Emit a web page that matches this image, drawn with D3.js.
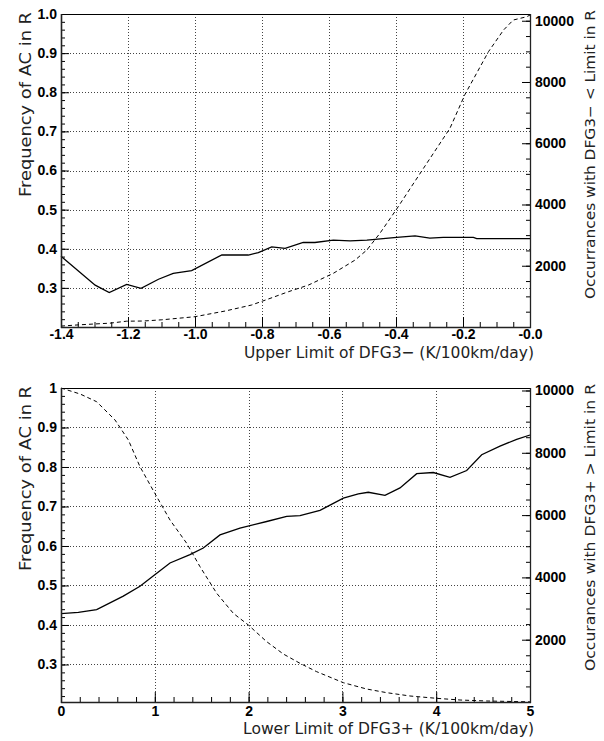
<!DOCTYPE html>
<html>
<head>
<meta charset="utf-8">
<script src="https://cdn.jsdelivr.net/npm/d3@7/dist/d3.min.js"></script>
<style>
  html, body { margin: 0; padding: 0; background: #fff; }
  svg { display: block; }
</style>
</head>
<body>
<svg id="chart" width="604" height="741"></svg>
<script>
// ---------------- DATA ----------------
// Top panel: upper limit of DFG3-
const topFreqX = [-1.4, -1.298, -1.256, -1.204, -1.161, -1.109, -1.065, -1.01, -0.92, -0.841, -0.811, -0.771, -0.731, -0.677, -0.642, -0.587, -0.537, -0.487, -0.398, -0.343, -0.299, -0.259, -0.169, -0.159, 0];
const topFreqY = [0.381, 0.307, 0.288, 0.309, 0.299, 0.322, 0.337, 0.344, 0.384, 0.384, 0.390, 0.405, 0.401, 0.416, 0.416, 0.422, 0.420, 0.422, 0.429, 0.433, 0.427, 0.429, 0.429, 0.426, 0.426];
const topCountX = [-1.4, -1.34, -1.254, -1.204, -1.154, -1.099, -1.0, -0.91, -0.831, -0.781, -0.721, -0.661, -0.587, -0.522, -0.487, -0.448, -0.398, -0.318, -0.239, -0.194, -0.124, -0.079, -0.05, -0.01, 0];
const topCountY = [30, 75, 125, 190, 195, 235, 336, 522, 718, 914, 1153, 1371, 1753, 2187, 2514, 3059, 3852, 5181, 6487, 7597, 8989, 9696, 10023, 10130, 10186];

// Bottom panel: lower limit of DFG3+
const botFreqX = [0, 0.185, 0.38, 0.664, 0.842, 1.0, 1.162, 1.375, 1.517, 1.695, 1.908, 2.193, 2.406, 2.548, 2.761, 3.01, 3.17, 3.276, 3.454, 3.614, 3.792, 3.969, 4.147, 4.325, 4.485, 4.68, 4.858, 5.0];
const botFreqY = [0.429, 0.432, 0.439, 0.473, 0.498, 0.527, 0.557, 0.578, 0.595, 0.628, 0.645, 0.662, 0.675, 0.677, 0.69, 0.721, 0.732, 0.736, 0.728, 0.747, 0.783, 0.786, 0.774, 0.791, 0.831, 0.853, 0.87, 0.881];
const botCountX = [0, 0.203, 0.38, 0.576, 0.718, 0.842, 1.0, 1.162, 1.34, 1.482, 1.66, 1.837, 1.997, 2.193, 2.37, 2.548, 2.726, 3.01, 3.258, 3.471, 3.72, 4.0, 4.254, 4.538, 5];
const botCountY = [10080, 9888, 9640, 9053, 8411, 7554, 6700, 5843, 5095, 4343, 3490, 2847, 2472, 1936, 1541, 1242, 973, 620, 417, 300, 193, 119, 64, 32, 5];

// Tick labels
const topXTicks = [-1.4, -1.2, -1.0, -0.8, -0.6, -0.4, -0.2, 0];
const topXLabels = ["-1.4", "-1.2", "-1.0", "-0.8", "-0.6", "-0.4", "-0.2", "-0.0"];
const topYTicks = [0.3, 0.4, 0.5, 0.6, 0.7, 0.8, 0.9, 1.0];
const topYLabels = ["0.3", "0.4", "0.5", "0.6", "0.7", "0.8", "0.9", "1.0"];
const botXTicks = [0, 1, 2, 3, 4, 5];
const botXLabels = ["0", "1", "2", "3", "4", "5"];
const botYTicks = [0.3, 0.4, 0.5, 0.6, 0.7, 0.8, 0.9, 1.0];
const botYLabels = ["0.3", "0.4", "0.5", "0.6", "0.7", "0.8", "0.9", "1"];
const rightTicks = [2000, 4000, 6000, 8000, 10000];
const rightLabels = ["2000", "4000", "6000", "8000", "10000"];

// Titles
const topXTitle = "Upper Limit of DFG3\u2212 (K/100km/day)";
const botXTitle = "Lower Limit of DFG3+ (K/100km/day)";
const leftTitle = "Frequency of AC in R";
const topRightTitle = "Occurrances with DFG3\u2212 < Limit in R";
const botRightTitle = "Occurances with DFG3+ > Limit in R";

// ---------------- DRAW ----------------
const svg = d3.select("#chart");

function panel(cfg) {
  const g = svg.append("g");
  const x = d3.scaleLinear().domain(cfg.xDomain).range([cfg.left, cfg.right]);
  const yL = d3.scaleLinear().domain(cfg.yLDomain).range([cfg.bottom, cfg.top]);
  const yR = d3.scaleLinear().domain(cfg.yRDomain).range([cfg.bottom, cfg.top]);

  // grid
  const grid = g.append("g").attr("stroke", "#444").attr("stroke-width", 1).attr("stroke-dasharray", "1,2");
  grid.selectAll("line.v").data(cfg.xTicks.filter(v => v > cfg.xDomain[0] + 1e-9 && v < cfg.xDomain[1] - 1e-9))
    .join("line").attr("class", "v")
    .attr("x1", d => Math.round(x(d)) + 0.5).attr("x2", d => Math.round(x(d)) + 0.5)
    .attr("y1", cfg.top).attr("y2", cfg.bottom);
  grid.selectAll("line.h").data(cfg.yTicks.filter(v => v > cfg.yLDomain[0] + 1e-9 && v < cfg.yLDomain[1] - 1e-9))
    .join("line").attr("class", "h")
    .attr("x1", cfg.left).attr("x2", cfg.right)
    .attr("y1", d => Math.round(yL(d)) + 0.5).attr("y2", d => Math.round(yL(d)) + 0.5);

  // frame
  g.append("rect").attr("x", cfg.left + 0.5).attr("y", cfg.top + 0.5)
    .attr("width", cfg.right - cfg.left).attr("height", cfg.bottom - cfg.top)
    .attr("fill", "none").attr("stroke", "#000").attr("stroke-width", 1);

  // lines
  const lineL = d3.line().x(d => x(d[0])).y(d => yL(d[1]));
  const lineR = d3.line().x(d => x(d[0])).y(d => yR(d[1]));
  g.append("path").datum(d3.zip(cfg.countX, cfg.countY)).attr("d", lineR)
    .attr("fill", "none").attr("stroke", "#000").attr("stroke-width", 1).attr("stroke-dasharray", "4,3");
  g.append("path").datum(d3.zip(cfg.freqX, cfg.freqY)).attr("d", lineL)
    .attr("fill", "none").attr("stroke", "#000").attr("stroke-width", 1.3);

  const styleAxis = (sel) => {
    sel.select(".domain").remove();
    sel.selectAll(".tick line").attr("stroke", "#000").attr("stroke-width", 1);
    sel.selectAll("text").attr("fill", "#000")
      .attr("font-family", "'Liberation Sans', Arial, sans-serif")
      .attr("font-weight", "bold").attr("font-size", 14);
  };

  // x axis major + minor
  const xMinor = d3.range(0, Math.round((cfg.xDomain[1] - cfg.xDomain[0]) / cfg.xMinorStep) + 1)
    .map(i => cfg.xDomain[0] + i * cfg.xMinorStep);
  g.append("g").attr("transform", `translate(0,${cfg.bottom})`)
    .call(d3.axisBottom(x).tickValues(xMinor).tickSize(-5).tickFormat(""))
    .call(styleAxis);
  g.append("g").attr("transform", `translate(0,${cfg.bottom})`)
    .call(d3.axisBottom(x).tickValues(cfg.xTicks).tickSizeInner(-10).tickSizeOuter(0).tickPadding(cfg.xTickPad)
      .tickFormat((d, i) => cfg.xLabels[i]))
    .call(styleAxis);

  // left axis major + minor
  const yMinor = d3.range(0, 51).map(i => +(i * 0.02).toFixed(2))
    .filter(v => v >= cfg.yLDomain[0] - 1e-9 && v <= cfg.yLDomain[1] + 1e-9);
  g.append("g").attr("transform", `translate(${cfg.left},0)`)
    .call(d3.axisLeft(yL).tickValues(yMinor).tickSize(-4).tickFormat(""))
    .call(styleAxis);
  g.append("g").attr("transform", `translate(${cfg.left},0)`)
    .call(d3.axisLeft(yL).tickValues(cfg.yTicks).tickSizeInner(-8).tickSizeOuter(0).tickPadding(4)
      .tickFormat((d, i) => cfg.yLabels[i]))
    .call(styleAxis);

  // right axis major + minor
  const rMinor = d3.range(0, 21).map(i => i * 500).filter(v => v <= cfg.yRDomain[1]);
  g.append("g").attr("transform", `translate(${cfg.right},0)`)
    .call(d3.axisRight(yR).tickValues(rMinor).tickSize(-4).tickFormat(""))
    .call(styleAxis);
  g.append("g").attr("transform", `translate(${cfg.right},0)`)
    .call(d3.axisRight(yR).tickValues(rightTicks).tickSizeInner(-8).tickSizeOuter(0).tickPadding(5)
      .tickFormat((d, i) => rightLabels[i]))
    .call(styleAxis);

  // axis lines (slightly heavier)
  g.append("line").attr("x1", cfg.left + 0.5).attr("x2", cfg.left + 0.5).attr("y1", cfg.top).attr("y2", cfg.bottom + 1)
    .attr("stroke", "#222").attr("stroke-width", 1.6);
  g.append("line").attr("x1", cfg.left).attr("x2", cfg.right + 1).attr("y1", cfg.bottom + 0.5).attr("y2", cfg.bottom + 0.5)
    .attr("stroke", "#222").attr("stroke-width", 1.6);
  g.append("line").attr("x1", cfg.right + 0.5).attr("x2", cfg.right + 0.5).attr("y1", cfg.top).attr("y2", cfg.bottom + 1)
    .attr("stroke", "#222").attr("stroke-width", 1.3);

  const titleFont = "'DejaVu Sans', Verdana, sans-serif";
  // x title
  g.append("text").attr("x", cfg.xTitleX).attr("y", cfg.xTitleY)
    .attr("text-anchor", "end").attr("font-family", titleFont).attr("font-size", 16.5)
    .attr("fill", "#222").attr("textLength", cfg.xTitleLen).attr("lengthAdjust", "spacingAndGlyphs")
    .text(cfg.xTitle);
  // left title
  g.append("text").attr("transform", `translate(31,${cfg.top - 2}) rotate(-90) scale(1,0.92)`)
    .attr("text-anchor", "end").attr("font-family", titleFont).attr("font-size", 17.5)
    .attr("fill", "#222").attr("textLength", 185).attr("lengthAdjust", "spacingAndGlyphs")
    .text(leftTitle);
  // right title
  g.append("text").attr("transform", `translate(595,${cfg.top - 4}) rotate(-90) scale(1,0.92)`)
    .attr("text-anchor", "end").attr("font-family", titleFont).attr("font-size", 15.5)
    .attr("fill", "#222").attr("textLength", cfg.rTitleLen).attr("lengthAdjust", "spacingAndGlyphs")
    .text(cfg.rTitle);
}

panel({
  left: 61, right: 530, top: 14, bottom: 327,
  xDomain: [-1.4, 0], yLDomain: [0.2, 1.0], yRDomain: [0, 10220],
  xTicks: topXTicks, xLabels: topXLabels, xMinorStep: 0.05, xTickPad: 2,
  yTicks: topYTicks, yLabels: topYLabels,
  freqX: topFreqX, freqY: topFreqY, countX: topCountX, countY: topCountY,
  xTitle: topXTitle, xTitleX: 534, xTitleY: 358, xTitleLen: 290,
  rTitle: topRightTitle, rTitleLen: 289
});

panel({
  left: 61, right: 530, top: 388, bottom: 702,
  xDomain: [0, 5], yLDomain: [0.205, 1.0], yRDomain: [0, 10080],
  xTicks: botXTicks, xLabels: botXLabels, xMinorStep: 0.2, xTickPad: 4,
  yTicks: botYTicks, yLabels: botYLabels,
  freqX: botFreqX, freqY: botFreqY, countX: botCountX, countY: botCountY,
  xTitle: botXTitle, xTitleX: 534, xTitleY: 734, xTitleLen: 291,
  rTitle: botRightTitle, rTitleLen: 287
});
</script>
</body>
</html>
